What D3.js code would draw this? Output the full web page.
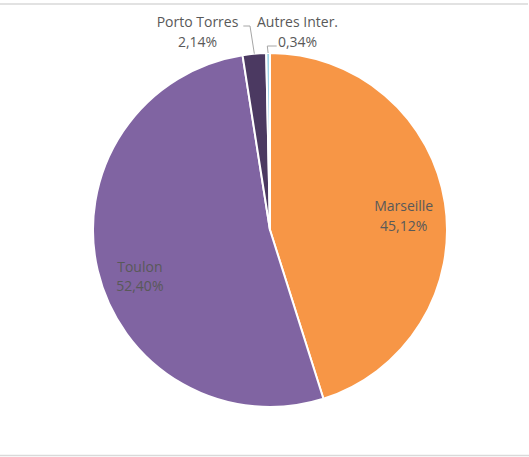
<!DOCTYPE html>
<html>
<head>
<meta charset="utf-8">
<script src="https://cdn.jsdelivr.net/npm/d3@7"></script>
<style>
  body { margin: 0; background: #fff; }
  svg text { font-family: "Open Sans", sans-serif; font-size: 14px; fill: #595959; }
</style>
</head>
<body>
<div class="chart"></div>
<script>
// values (percent share)
var ports = ["Marseille", "Toulon", "Porto Torres", "Autres Inter."];
var shares = [45.12, 52.40, 2.14, 0.34];
var shareLabels = ["45,12%", "52,40%", "2,14%", "0,34%"];
var colors = ["#f79646", "#8064a2", "#4b3961", "#9dd3e6"];

var width = 529, height = 457;
var cx = 270, cy = 230, radius = 177;
var lineGap = 19.5;

var data = ports.map(function(p, i) {
  return { name: p, value: shares[i], label: shareLabels[i], color: colors[i] };
});

var svg = d3.select(".chart").append("svg")
    .attr("width", width)
    .attr("height", height);

// chart area border (top + bottom lines)
svg.append("line")
    .attr("x1", 0).attr("x2", width - 1)
    .attr("y1", 4).attr("y2", 4)
    .attr("stroke", "#d9d9d9").attr("stroke-width", 1.5);
svg.append("line")
    .attr("x1", 0).attr("x2", width)
    .attr("y1", 455.5).attr("y2", 455.5)
    .attr("stroke", "#d9d9d9").attr("stroke-width", 1.5);

var g = svg.append("g")
    .attr("transform", "translate(" + cx + "," + cy + ")");

var pie = d3.pie().sort(null).value(function(d) { return d.value; });
var arc = d3.arc().innerRadius(0).outerRadius(radius);
var arcs = pie(data);

g.selectAll(".slice")
    .data(arcs)
    .enter().append("path")
    .attr("class", "slice")
    .attr("d", arc)
    .attr("fill", function(d) { return d.data.color; })
    .attr("stroke", "#fff")
    .attr("stroke-width", 2)
    .attr("stroke-linejoin", "round");

function twoLines(x, y, d) {
  var t = g.append("text").attr("text-anchor", "middle");
  t.append("tspan").attr("x", x).attr("y", y).text(d.data.name);
  t.append("tspan").attr("x", x).attr("y", y + lineGap).text(d.data.label);
}

// inside labels for the two big slices (centroid + small nudge)
var inner = d3.arc().innerRadius(radius * 0.77).outerRadius(radius * 0.77);
var innerShift = [[-1, 2], [2.5, 10.5]];

arcs.slice(0, 2).forEach(function(d, i) {
  var c = inner.centroid(d);
  twoLines(c[0] + innerShift[i][0], c[1] + innerShift[i][1], d);
});

// outside labels with leader lines for the small slices
var outerPt = d3.arc().innerRadius(radius).outerRadius(radius);
var outLabel = [[-72.5, -202.8], [27.5, -202.8]];
var elbow = [[-20, -204], [-2.7, -184]];
var elbowEnd = [[-26.7, -204], [6.7, -184]];

arcs.slice(2).forEach(function(d, i) {
  var p = outerPt.centroid(d);
  g.append("polyline")
      .attr("points", [p, elbow[i], elbowEnd[i]].map(function(q) { return q.join(","); }).join(" "))
      .attr("fill", "none")
      .attr("stroke", "#a6a6a6")
      .attr("stroke-width", 1);
  twoLines(outLabel[i][0], outLabel[i][1], d);
});
</script>
</body>
</html>
